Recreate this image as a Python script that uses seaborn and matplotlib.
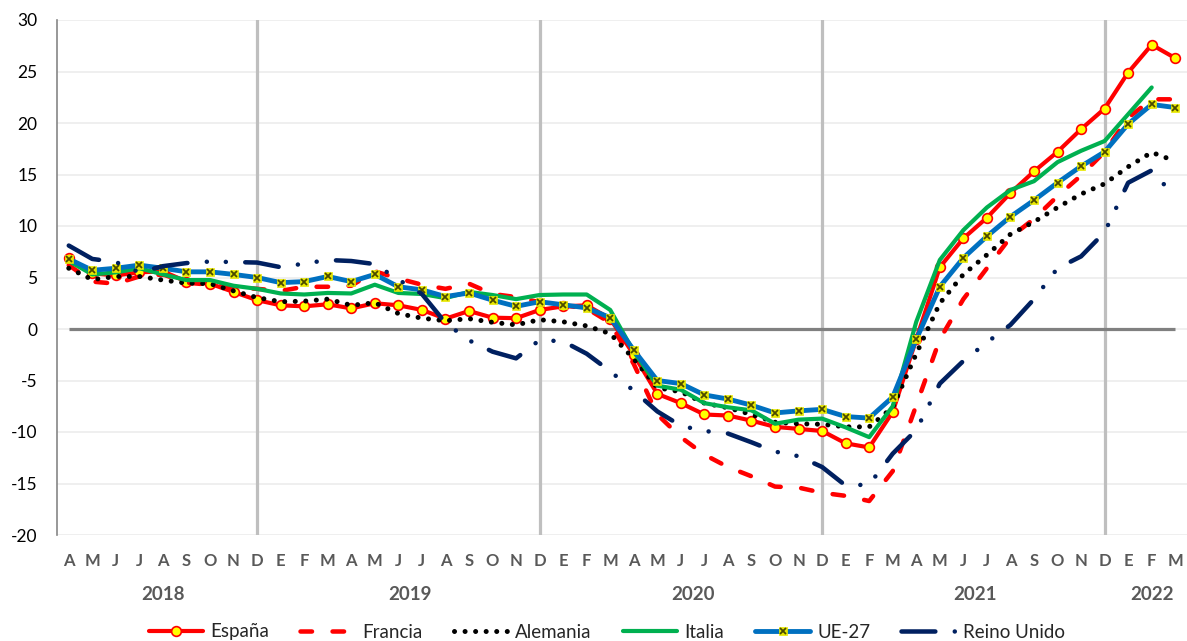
import matplotlib
matplotlib.use("Agg")
import matplotlib.pyplot as plt
import matplotlib.transforms as mtransforms
from matplotlib.lines import Line2D
from matplotlib.legend_handler import HandlerTuple
import numpy as np
import pandas as pd
import seaborn as sns

# Monthly series, April 2018 - March 2022
MONTHS = list("AMJJASOND") + list("EFMAMJJASOND") * 3 + list("EFM")
YEARS = ["2018", "2019", "2020", "2021", "2022"]
YEAR_MONTHS = [9, 12, 12, 12, 3]

espana = [6.9, 5.4, 5.2, 5.5, 5.6, 4.6, 4.4, 3.6, 2.8, 2.3, 2.2, 2.4,
          2.0, 2.5, 2.3, 1.85, 1.0, 1.75, 1.1, 1.05, 1.85, 2.2, 2.3, 1.0,
          -2.5, -6.3, -7.2, -8.3, -8.4, -8.9, -9.5, -9.7, -9.9, -11.1, -11.5, -8.05,
          -1.0, 6.0, 8.8, 10.8, 13.2, 15.3, 17.2, 19.4, 21.4, 24.9, 27.6, 26.3]
francia = [6.2, 4.6, 4.4, 5.1, 5.3, 4.5, 4.3, 4.05, 3.9, 3.7, 4.1, 4.1,
           4.2, 5.6, 4.9, 4.3, 3.9, 4.4, 3.4, 3.1, 2.6, 2.3, 2.0, 0.6,
           -3.4, -8.3, -10.5, -12.2, -13.4, -14.3, -15.3, -15.4, -15.9, -16.2, -16.7, -13.8,
           -7.4, -1.0, 2.9, 5.9, 8.9, 10.7, 12.9, 14.9, 17.2, 20.5, 22.3, 22.3]
alemania = [5.9, 4.8, 5.1, 5.1, 4.75, 4.45, 4.4, 3.7, 3.05, 2.65, 2.7, 2.9,
            2.3, 2.55, 1.5, 1.05, 0.8, 1.0, 0.65, 0.4, 0.9, 0.7, 0.3, -0.45,
            -2.9, -5.7, -6.1, -7.2, -7.65, -8.3, -9.05, -9.2, -9.25, -9.5, -9.5, -7.6,
            -2.4, 2.5, 5.3, 7.2, 9.2, 10.4, 11.8, 13.1, 14.1, 15.75, 17.15, 16.3]
italia = [6.6, 5.3, 5.5, 5.9, 5.3, 4.75, 4.75, 4.2, 3.9, 3.45, 3.35, 3.5,
          3.45, 4.3, 3.5, 3.4, 3.0, 3.6, 3.3, 2.9, 3.3, 3.35, 3.35, 1.85,
          -2.2, -5.5, -5.9, -7.2, -7.6, -7.9, -9.2, -8.8, -8.7, -9.55, -10.5, -7.5,
          0.7, 6.7, 9.6, 11.8, 13.5, 14.35, 16.2, 17.3, 18.25, 20.85, 23.45, np.nan]
ue27 = [6.8, 5.7, 5.9, 6.2, 5.9, 5.55, 5.55, 5.3, 5.0, 4.5, 4.6, 5.1,
        4.6, 5.3, 4.1, 3.8, 3.15, 3.5, 2.8, 2.2, 2.65, 2.35, 2.05, 1.1,
        -2.05, -5.0, -5.3, -6.4, -6.8, -7.4, -8.15, -7.95, -7.8, -8.5, -8.65, -6.6,
        -1.0, 4.1, 6.9, 9.0, 10.9, 12.5, 14.2, 15.8, 17.2, 19.9, 21.8, 21.5]
reino_unido = [8.1, 6.8, 6.5, 5.5, 6.1, 6.4, 6.55, 6.5, 6.45, 6.0, 6.35, 6.7,
               6.6, 6.3, 4.8, 3.4, 0.6, -1.1, -2.2, -2.85, -1.07, -1.2, -2.4, -4.1,
               -6.0, -8.0, -9.4, -9.9, -10.15, -11.0, -11.9, -12.35, -13.4, -15.2, -15.1, -12.1,
               -9.8, -5.3, -3.1, -1.3, 0.4, 2.9, 5.9, 7.05, 9.4, 14.2, 15.4, 12.8]

df = pd.DataFrame({
    "mes": np.arange(len(MONTHS)),
    "España": espana,
    "Francia": francia,
    "Alemania": alemania,
    "Italia": italia,
    "UE-27": ue27,
    "Reino Unido": reino_unido,
})

RED = "#FF0000"
GREEN = "#00B050"
BLUE = "#0070C0"
NAVY = "#002060"
YELLOW = "#FFFF00"
GREY_TXT = "#595959"

sns.set_theme(style="white")
plt.rcParams["font.family"] = ["Lato", "DejaVu Sans"]
plt.rcParams["axes.unicode_minus"] = False

fig = plt.figure(figsize=(11.87, 6.41), dpi=100)
ax = fig.add_axes([57 / 1187, 106 / 641, 1130 / 1187, 515 / 641])

styles = {
    "España": dict(color=RED, lw=3, marker="o", markersize=7,
                   markerfacecolor=YELLOW, markeredgecolor=RED, markeredgewidth=1.2),
    "Francia": dict(color=RED, lw=3.25, linestyle=(0, (2.55, 4.55)),
                    dash_capstyle="round"),
    "Alemania": dict(color="black", lw=3.6, linestyle=(0, (0.01, 2.1)),
                     dash_capstyle="round"),
    "Italia": dict(color=GREEN, lw=3),
    "UE-27": dict(color=BLUE, lw=3.5, marker="s", markersize=6,
                  markerfacecolor="#E8E800", markeredgecolor="#E8E800",
                  markeredgewidth=0.5),
    "Reino Unido": dict(color=NAVY, lw=3.25,
                        linestyle=(0, (7.5, 4.3, 0.01, 4.2, 0.01, 4.3)),
                        dash_capstyle="round"),
}
CROSS = dict(linestyle="none", marker="x", markersize=4.5, markeredgewidth=1.3,
             color="#4A4A00", markeredgecolor="#4A4A00")

for z, (name, kw) in enumerate(styles.items()):
    sns.lineplot(data=df, x="mes", y=name, ax=ax, estimator=None,
                 errorbar=None, zorder=3 + z, **kw)

# dark crosses on top of the UE-27 markers
sns.lineplot(data=df, x="mes", y="UE-27", ax=ax, estimator=None, errorbar=None,
             zorder=7.5, **CROSS)

# grid, zero line and December separators
for v in range(-20, 31, 5):
    ax.axhline(v, color="#EEEEEE", lw=1.3, zorder=0)
for i, m in enumerate(MONTHS):
    if i in (8, 20, 32, 44):
        ax.axvline(i, color="#BFBFBF", lw=2.3, zorder=1)
ax.hlines(0, 0, len(MONTHS) - 1, color="#808080", lw=2.3, zorder=2)

ax.set_xlim(-0.5, len(MONTHS) - 0.5)
ax.set_ylim(-20, 30)
ax.set_yticks(range(-20, 31, 5))
ax.set_xticks(df["mes"])
ax.set_xticklabels(MONTHS, fontsize=12, fontweight="bold", color=GREY_TXT)
ax.tick_params(axis="x", length=0, pad=13)
ax.tick_params(axis="y", direction="in", length=6, width=1.2, color="#868686",
               labelsize=12.5, labelcolor="black", pad=14)
ax.set_xlabel("")
ax.set_ylabel("")
for side in ("top", "right", "bottom"):
    ax.spines[side].set_visible(False)
ax.spines["left"].set_color("#868686")
ax.spines["left"].set_linewidth(1.2)

# year labels under the month letters
trans = mtransforms.blended_transform_factory(ax.transData, ax.transAxes)
start = 0
for year, n in zip(YEARS, YEAR_MONTHS):
    ax.text(start + (n - 1) / 2, -60 / 515, year, transform=trans,
            ha="center", va="center", fontsize=13.5, fontweight="bold",
            color=GREY_TXT)
    start += n

handles = [
    Line2D([], [], **styles["España"]),
    Line2D([], [], **styles["Francia"]),
    Line2D([], [], **styles["Alemania"]),
    Line2D([], [], **styles["Italia"]),
    (Line2D([], [], **styles["UE-27"]), Line2D([], [], **CROSS)),
    Line2D([], [], **styles["Reino Unido"]),
]
labels = list(styles.keys())
fig.legend(handles, labels, loc="center", bbox_to_anchor=(607 / 1187, 9 / 641),
           ncol=6, frameon=False, fontsize=13.5, handlelength=2.9,
           columnspacing=1.65, handletextpad=0.4, numpoints=1,
           handler_map={tuple: HandlerTuple(ndivide=1)})

fig.savefig("out.png", dpi=100)
